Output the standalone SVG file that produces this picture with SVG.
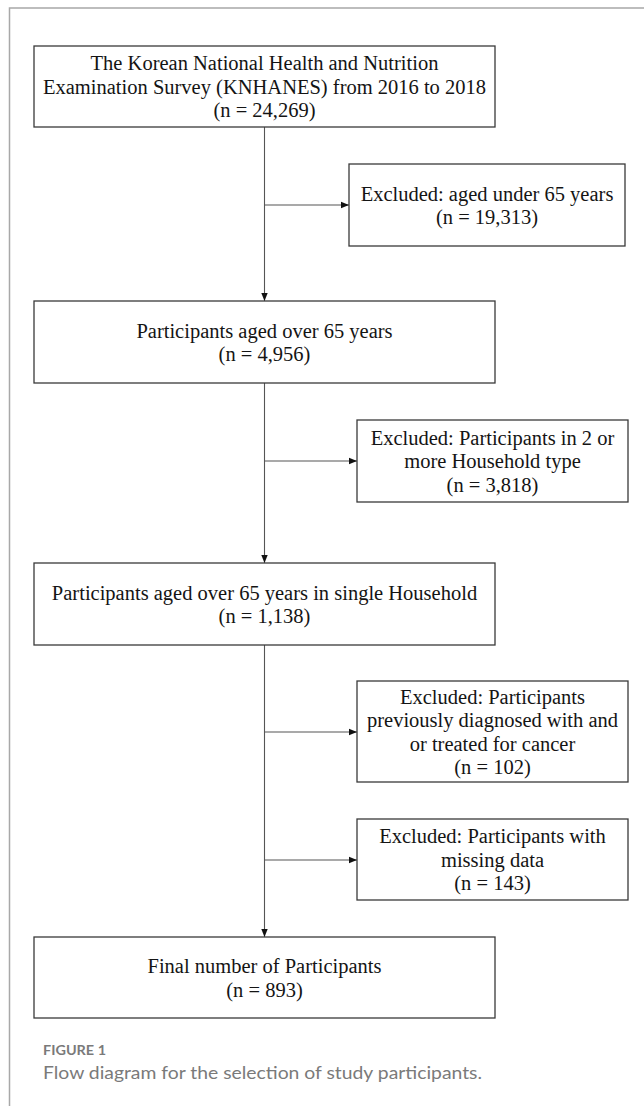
<svg xmlns="http://www.w3.org/2000/svg" width="644" height="1106" viewBox="0 0 644 1106">
<style>
.box{fill:#fff;stroke:#3a3a3a;stroke-width:1.3}
.t{font-family:"Liberation Serif","Times New Roman",serif;font-size:20.5px;fill:#141414;text-anchor:middle}
.c{fill:none;stroke:#555;stroke-width:1.1}
.cap1{font-family:Lato,"Open Sans",sans-serif;font-size:13.5px;font-weight:bold;fill:#7a7a7a}
.cap2{font-family:Lato,"Open Sans",sans-serif;font-size:18px;fill:#7a7a7a}
</style>
<defs>
<marker id="ah" viewBox="0 0 8 8" refX="8" refY="4" markerWidth="8" markerHeight="8" markerUnits="userSpaceOnUse" orient="auto">
<path d="M0,0.8 L8,4 L0,7.2 Z" fill="#111"/>
</marker>
</defs>
<rect width="644" height="1106" fill="#fff"/>
<path d="M9.5,1106 V8 H644" fill="none" stroke="#a8a8a8" stroke-width="1.5"/>
<g id="connectors">
<path class="c" d="M264.5,127 V301" marker-end="url(#ah)"/>
<path class="c" d="M264.5,205 H349" marker-end="url(#ah)"/>
<path class="c" d="M264.5,383 V563" marker-end="url(#ah)"/>
<path class="c" d="M264.5,461 H357" marker-end="url(#ah)"/>
<path class="c" d="M264.5,645 V937" marker-end="url(#ah)"/>
<path class="c" d="M264.5,732 H357" marker-end="url(#ah)"/>
<path class="c" d="M264.5,860 H357" marker-end="url(#ah)"/>
</g>
<g id="n1">
<rect class="box" x="34" y="46" width="461" height="81"/>
<text class="t" x="264.5" y="69.5">The Korean National Health and Nutrition</text>
<text class="t" x="264.5" y="93.5" textLength="443" lengthAdjust="spacingAndGlyphs">Examination Survey (KNHANES) from 2016 to 2018</text>
<text class="t" x="264.5" y="117">(n = 24,269)</text>
</g>
<g id="e1">
<rect class="box" x="349" y="164" width="276" height="82"/>
<text class="t" x="487" y="200.5">Excluded: aged under 65 years</text>
<text class="t" x="487" y="224">(n = 19,313)</text>
</g>
<g id="n2">
<rect class="box" x="34" y="301" width="461" height="82"/>
<text class="t" x="264.5" y="337.5">Participants aged over 65 years</text>
<text class="t" x="264.5" y="361">(n = 4,956)</text>
</g>
<g id="e2">
<rect class="box" x="357" y="420" width="271" height="82"/>
<text class="t" x="492.5" y="444.5">Excluded: Participants in 2 or</text>
<text class="t" x="492.5" y="468">more Household type</text>
<text class="t" x="492.5" y="491.5">(n = 3,818)</text>
</g>
<g id="n3">
<rect class="box" x="34" y="563" width="461" height="82"/>
<text class="t" x="264.5" y="599.5">Participants aged over 65 years in single Household</text>
<text class="t" x="264.5" y="623">(n = 1,138)</text>
</g>
<g id="e3">
<rect class="box" x="357" y="681" width="271" height="101"/>
<text class="t" x="492.5" y="703.5">Excluded: Participants</text>
<text class="t" x="492.5" y="727">previously diagnosed with and</text>
<text class="t" x="492.5" y="750.5">or treated for cancer</text>
<text class="t" x="492.5" y="774">(n = 102)</text>
</g>
<g id="e4">
<rect class="box" x="357" y="819" width="271" height="81"/>
<text class="t" x="492.5" y="843">Excluded: Participants with</text>
<text class="t" x="492.5" y="866.5">missing data</text>
<text class="t" x="492.5" y="890">(n = 143)</text>
</g>
<g id="n4">
<rect class="box" x="34" y="937" width="461" height="81"/>
<text class="t" x="264.5" y="973">Final number of Participants</text>
<text class="t" x="264.5" y="996.5">(n = 893)</text>
</g>
<g id="caption">
<text class="cap1" x="43" y="1055" textLength="63" lengthAdjust="spacingAndGlyphs">FIGURE 1</text>
<text class="cap2" x="43" y="1079" textLength="439" lengthAdjust="spacingAndGlyphs">Flow diagram for the selection of study participants.</text>
</g>
</svg>
